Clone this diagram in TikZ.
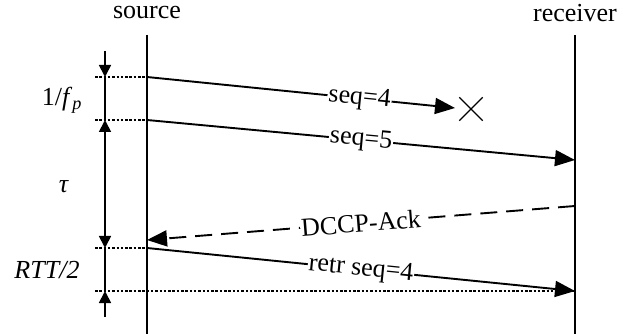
\documentclass[tikz,border=0pt]{standalone}
\usepackage{fontspec}
\setmainfont{Liberation Serif}
\usetikzlibrary{arrows.meta,shapes.misc}
\begin{document}
\begin{tikzpicture}[x=1pt,y=-1pt,
  lifeline/.style={line width=2.8pt},
  msg/.style={line width=1.9pt,-{Triangle[length=20pt,width=16pt]}},
  lbl/.style={font=\fontsize{26}{30}\selectfont},
  mlabel/.style={lbl,sloped,fill=white,inner sep=1pt},
  guide/.style={line width=1.2pt,dash pattern=on 2.5pt off 1.8pt},
  measure/.style={line width=1.8pt},
  mtip/.style={-{Triangle[length=12pt,width=12pt]}},
  mtips/.style={{Triangle[length=12pt,width=12pt]}-{Triangle[length=12pt,width=12pt]}}
]
\useasboundingbox (0,0) rectangle (630,334);
% headers
\node[lbl] (src) at (147,13) {source};
\node[lbl] (rcv) at (575,13) {receiver};
% lifelines
\coordinate (stop) at (147,35); \coordinate (sbot) at (147,334);
\coordinate (rtop) at (575,35); \coordinate (rbot) at (575,334);
\draw[lifeline] (stop) -- (sbot);
\draw[lifeline] (rtop) -- (rbot);
% event points
\coordinate (s1) at (147,77);
\coordinate (s2) at (147,120);
\coordinate (s3) at (147,240);
\coordinate (s4) at (147,248);
\coordinate (r2) at (575,160);
\coordinate (r3) at (575,206);
\coordinate (r4) at (575,291);
\coordinate (lost) at (455,108);
% guides
\coordinate (g1) at (95,77);
\coordinate (g2) at (95,120);
\coordinate (g3) at (95,248);
\coordinate (g4) at (95,291);
\draw[guide] (g1) -- (s1);
\draw[guide] (g2) -- (s2);
\draw[guide] (g3) -- (s4);
\draw[guide] (g4) -- (r4);
% messages
\draw[msg] (s1) -- node[mlabel,pos=0.69] {seq=4} (lost);
\node[draw,cross out,line width=1.3pt,minimum size=22pt,inner sep=0pt] (x) at (471,109) {};
\draw[msg] (s2) -- node[mlabel] {seq=5} (r2);
\draw[msg,dash pattern=on 17pt off 9pt] (r3) -- node[mlabel] {DCCP-Ack} (s3);
\draw[msg] (s4) -- node[mlabel] {retr seq=4} (r4);
% measures
\coordinate (m0) at (105,51);
\coordinate (m1) at (105,77);
\coordinate (m2) at (105,120);
\coordinate (m3) at (105,248);
\coordinate (m4) at (105,291);
\coordinate (m5) at (105,317);
\draw[measure,mtip] (m0) -- (m1);
\draw[measure] (m1) -- (m2);
\draw[measure,mtips] (m2) -- (m3);
\draw[measure] (m3) -- (m4);
\draw[measure,mtip] (m5) -- (m4);
\node[lbl] (fp) at (62,100) {1/\textit{f}\textsubscript{\textit{p}}};
\node[lbl] (tau) at (64,187) {\textit{τ}};
\node[lbl] (rtt) at (47,270) {\textit{RTT/2}};
\end{tikzpicture}
\end{document}
